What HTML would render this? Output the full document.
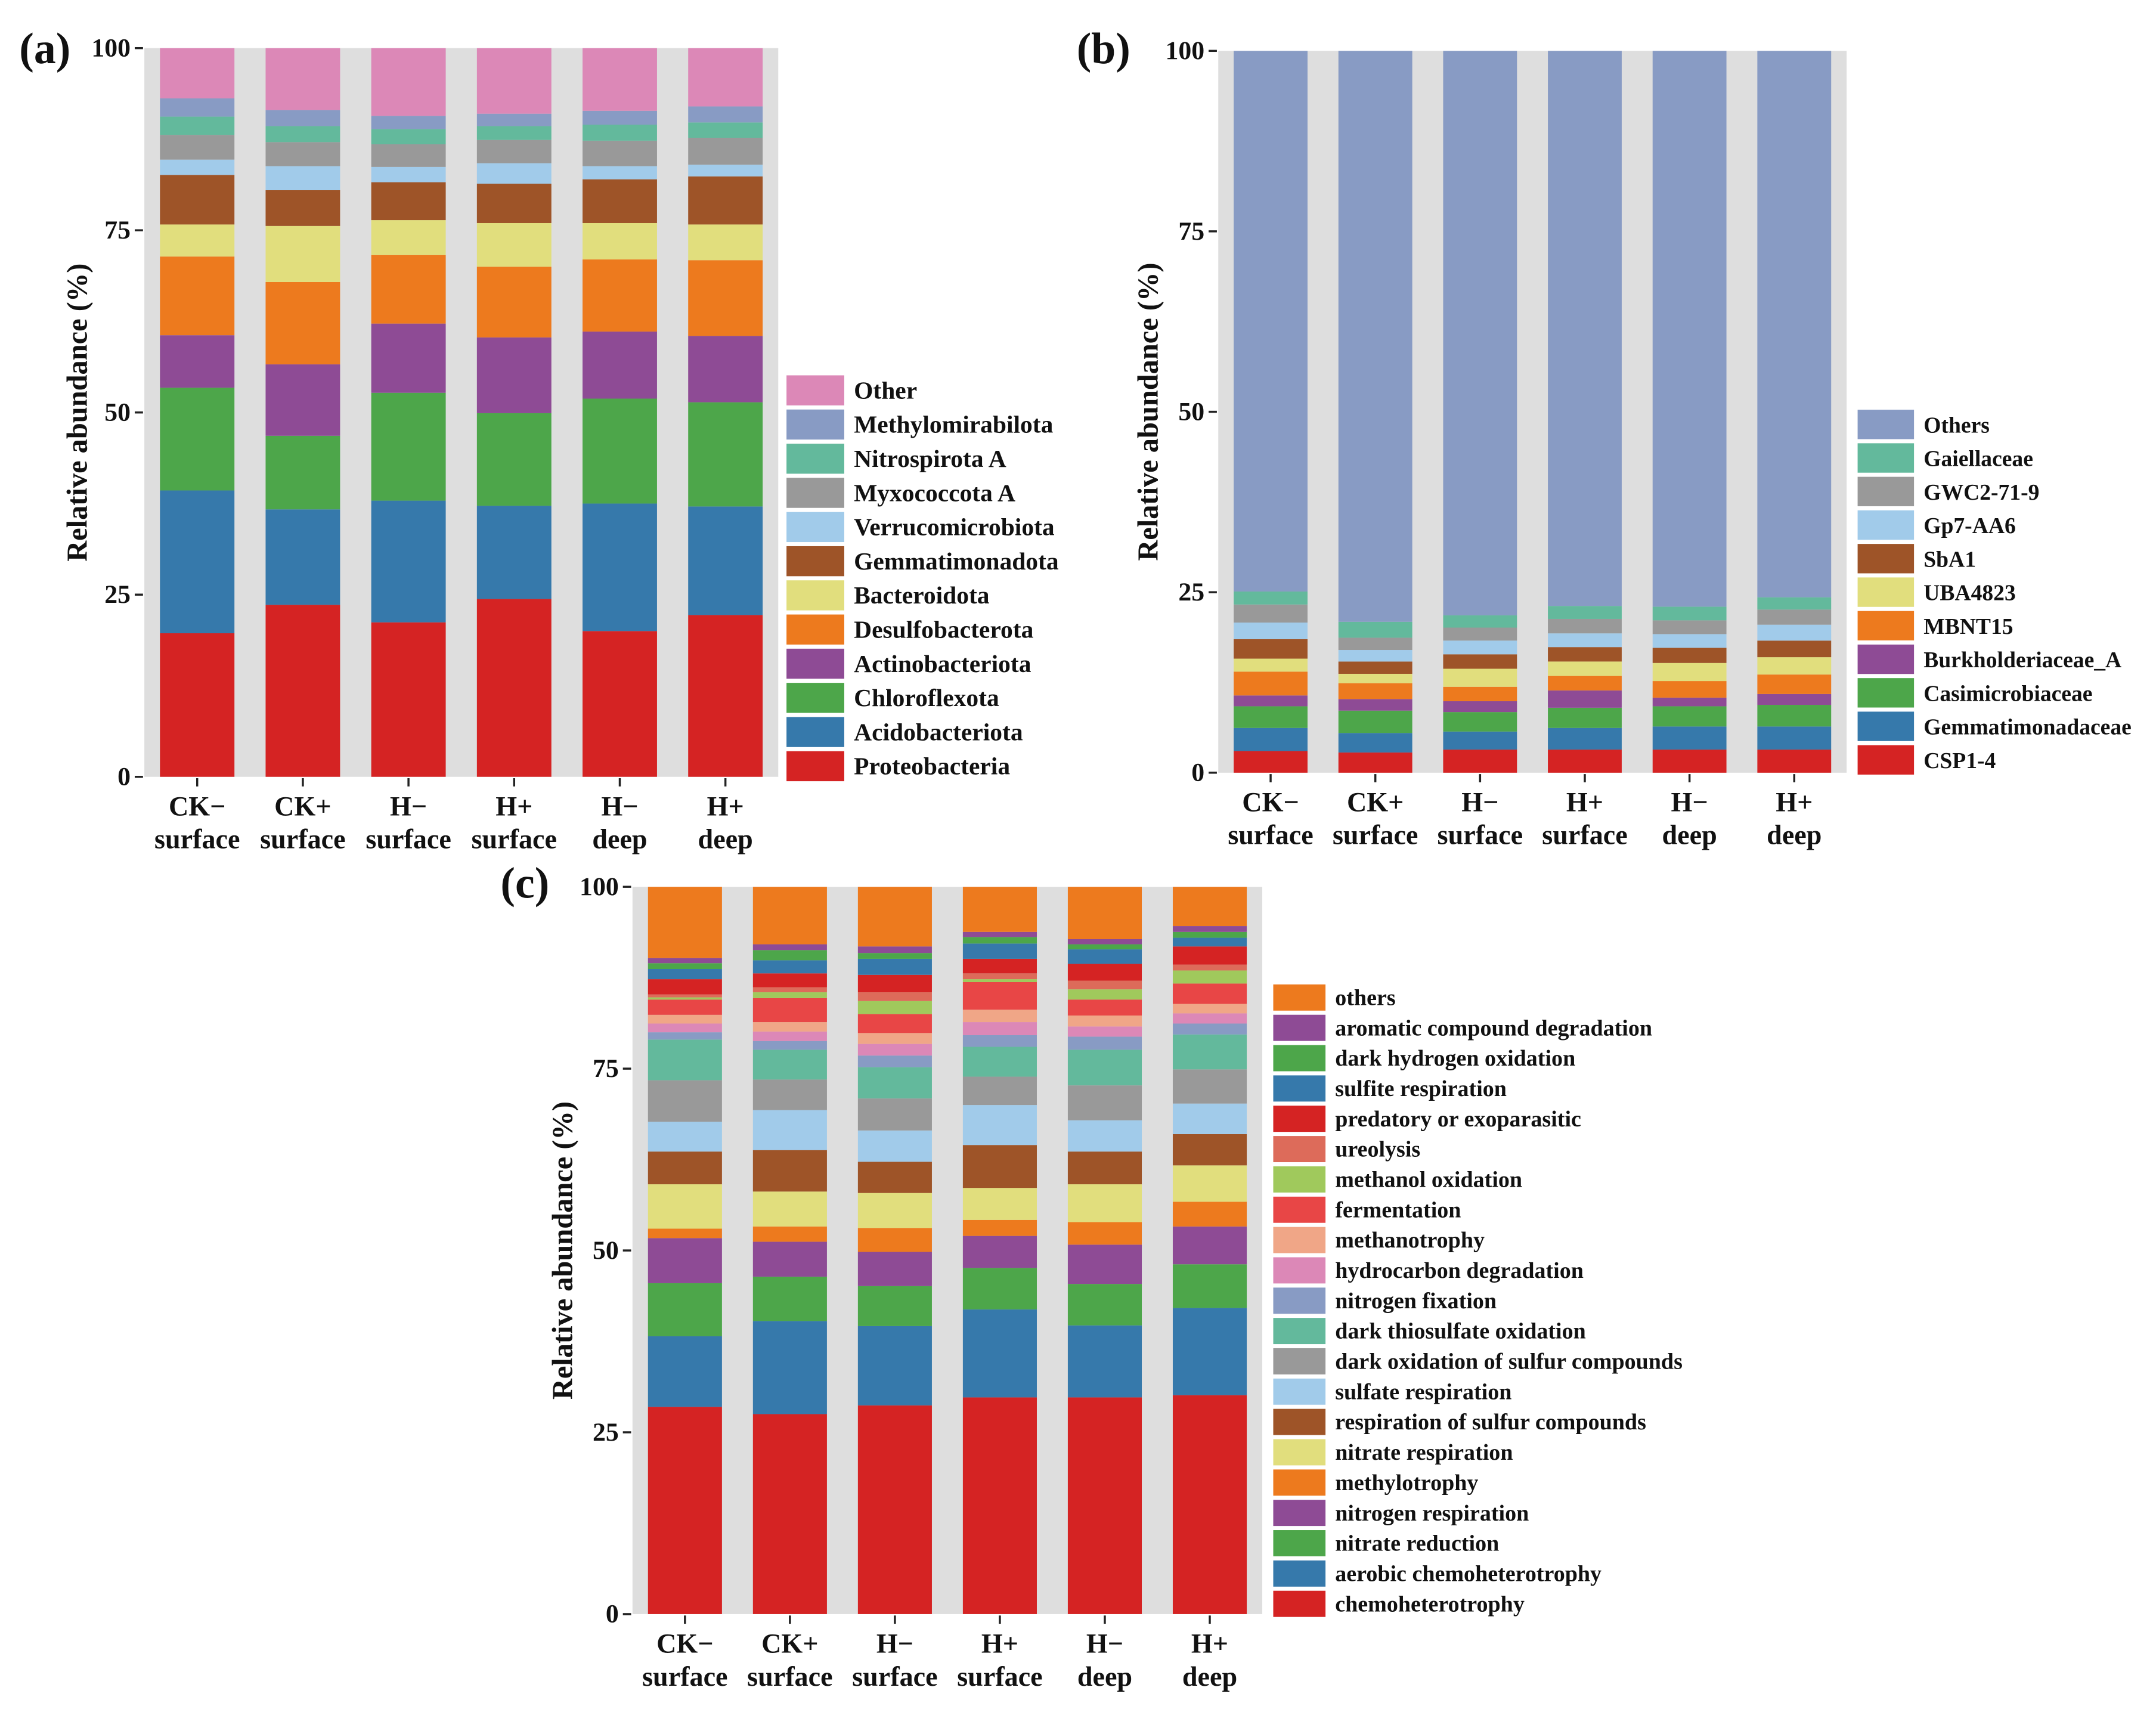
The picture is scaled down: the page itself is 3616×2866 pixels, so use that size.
<!DOCTYPE html>
<html><head><meta charset="utf-8">
<style>
html,body{margin:0;padding:0;background:#fff;}
svg{display:block;}
text{font-family:"Liberation Serif","Times New Roman",serif;font-weight:bold;fill:#111;}
</style></head>
<body>
<svg id="fig" xmlns="http://www.w3.org/2000/svg" width="3616" height="2866" viewBox="0 0 1568 1243" preserveAspectRatio="none"></svg>
<script>
// ---------- shared data ----------
const samples = ["CK−|surface","CK+|surface","H−|surface","H+|surface","H−|deep","H+|deep"];
const yTicks = [0,25,50,75,100];

// ---------- panel (a): phylum, segment values per sample (bottom→top) ----------
const aSeries = ["Proteobacteria","Acidobacteriota","Chloroflexota","Actinobacteriota","Desulfobacterota","Bacteroidota","Gemmatimonadota","Verrucomicrobiota","Myxococcota A","Nitrospirota A","Methylomirabilota","Other"];
const aColors = ["#d52323","#3679ab","#4da64a","#8e4b95","#ed7a1e","#e1de7d","#9e5428","#a1cbea","#999999","#63b99c","#889bc4","#dc88b7"];
const aS1 = [19.7,19.6,14.1,7.2,10.8,4.4,6.8,2.1,3.4,2.5,2.5,6.9];
const aS2 = [23.6,13.1,10.1,9.8,11.3,7.7,4.9,3.3,3.3,2.2,2.2,8.5];
const aS3 = [21.2,16.7,14.8,9.5,9.4,4.8,5.2,2.1,3.1,2.1,1.8,9.3];
const aS4 = [24.4,12.8,12.7,10.4,9.7,6.0,5.4,2.8,3.2,1.9,1.7,9.0];
const aS5 = [20.0,17.5,14.4,9.2,9.9,5.0,6.0,1.8,3.5,2.2,1.9,8.6];
const aS6 = [22.2,14.9,14.3,9.1,10.4,4.9,6.6,1.6,3.7,2.1,2.2,8.0];

// ---------- panel (b): family ----------
const bSeries = ["CSP1-4","Gemmatimonadaceae","Casimicrobiaceae","Burkholderiaceae_A","MBNT15","UBA4823","SbA1","Gp7-AA6","GWC2-71-9","Gaiellaceae","Others"];
const bColors = ["#d52323","#3679ab","#4da64a","#8e4b95","#ed7a1e","#e1de7d","#9e5428","#a1cbea","#999999","#63b99c","#889bc4"];
const bS1 = [3.0,3.2,3.0,1.5,3.3,1.8,2.7,2.3,2.5,1.8,74.9];
const bS2 = [2.8,2.7,3.1,1.6,2.2,1.3,1.7,1.6,1.7,2.2,79.1];
const bS3 = [3.2,2.5,2.7,1.5,2.0,2.5,2.0,1.9,1.8,1.7,78.2];
const bS4 = [3.2,3.0,2.8,2.4,2.0,2.0,2.0,1.9,2.0,1.8,76.9];
const bS5 = [3.2,3.2,2.8,1.2,2.3,2.5,2.1,1.9,1.9,1.9,77.0];
const bS6 = [3.2,3.2,3.0,1.5,2.7,2.4,2.3,2.2,2.1,1.7,75.7];

// ---------- panel (c): function, cumulative top boundary (%) per sample ----------
const cSeries = ["chemoheterotrophy","aerobic chemoheterotrophy","nitrate reduction","nitrogen respiration","methylotrophy","nitrate respiration","respiration of sulfur compounds","sulfate respiration","dark oxidation of sulfur compounds","dark thiosulfate oxidation","nitrogen fixation","hydrocarbon degradation","methanotrophy","fermentation","methanol oxidation","ureolysis","predatory or exoparasitic","sulfite respiration","dark hydrogen oxidation","aromatic compound degradation","others"];
const cColors = ["#d52323","#3679ab","#4da64a","#8e4b95","#ed7a1e","#e1de7d","#9e5428","#a1cbea","#999999","#63b99c","#889bc4","#dc88b7","#f0a687","#e84646","#a0c95c","#dd6b5a","#d52323","#3679ab","#4da64a","#8e4b95","#ed7a1e"];
const cCum1 = [28.5,38.2,45.5,51.7,53.0,59.1,63.6,67.7,73.4,79.0,80.0,81.2,82.4,84.5,84.8,85.2,87.3,88.7,89.5,90.2,100];
const cCum2 = [27.5,40.3,46.4,51.2,53.3,58.1,63.8,69.3,73.5,77.6,78.8,80.1,81.4,84.7,85.5,86.2,88.1,89.9,91.3,92.1,100];
const cCum3 = [28.7,39.6,45.1,49.8,53.1,57.9,62.2,66.5,70.9,75.2,76.8,78.4,79.9,82.5,84.3,85.5,87.9,90.1,90.9,91.8,100];
const cCum4 = [29.8,41.9,47.6,52.0,54.2,58.6,64.5,70.0,73.9,78.0,79.6,81.4,83.1,86.9,87.3,88.1,90.1,92.2,93.1,93.8,100];
const cCum5 = [29.8,39.7,45.4,50.8,53.9,59.1,63.6,67.9,72.7,77.6,79.4,80.8,82.3,84.5,85.9,87.1,89.4,91.4,92.1,92.8,100];
const cCum6 = [30.1,42.1,48.1,53.3,56.7,61.7,66.0,70.2,74.9,79.7,81.2,82.6,83.9,86.7,88.5,89.3,91.8,93.0,93.8,94.6,100];

const NS = "http://www.w3.org/2000/svg";
const svg = document.getElementById('fig');
function mk(tag, attrs, parent){
  const e = document.createElementNS(NS, tag);
  for (const k in attrs) e.setAttribute(k, attrs[k]);
  (parent||svg).appendChild(e);
  return e;
}
function toCum(vals){ const out=[]; let s=0; for(const v of vals){ s+=v; out.push(s);} return out; }

function panel(cfg){
  const g = mk('g', {});
  
  
  const yScale = v => cfg.y0 + (cfg.y100 - cfg.y0) * v / 100;
  const bg = mk('rect', {x:cfg.bgX0, y:cfg.y100, width:cfg.bgX1-cfg.bgX0, height:cfg.y0-cfg.y100, fill:'#dedede'}, g);
  
  
  const lt = mk('text', {x:cfg.letterX, y:cfg.letterY, 'font-size':32}, g);
  lt.textContent = cfg.letter;
  
  
  yTicks.forEach(t=>{
    const y = yScale(t);
    const tk = mk('line', {x1:cfg.bgX0-7, x2:cfg.bgX0-1, y1:y, y2:y, stroke:'#222', 'stroke-width':1.5}, g);
    
    
    const tl = mk('text', {x:cfg.bgX0-10, y:y+6, 'font-size':19, 'text-anchor':'end'}, g);
    tl.textContent = t;
    
    
  });
  const cy = (cfg.y0+cfg.y100)/2;
  const yt = mk('text', {x:cfg.titleX, y:cy, 'font-size':21, 'text-anchor':'middle', transform:`rotate(-90 ${cfg.titleX} ${cy})`}, g);
  yt.textContent = 'Relative abundance (%)';
  
  
  const step = (cfg.bgX1-cfg.bgX0)/6;
  const bw = step*0.705;
  cfg.cums.forEach((cum, i)=>{
    const cx = cfg.bgX0 + step*(i+0.5);
    let prev = 0;
    cum.forEach((top, j)=>{
      const t = Math.min(top, 100);
      const r = mk('rect', {x:cx-bw/2, y:yScale(t), width:bw, height:Math.max(0, yScale(prev)-yScale(t)), fill:cfg.colors[j]}, g);
      
      
      prev = t;
    });
    const xt = mk('line', {x1:cx, x2:cx, y1:cfg.y0+1, y2:cfg.y0+7, stroke:'#222', 'stroke-width':1.5}, g);
    
    
    const parts = samples[i].split('|');
    const l1 = mk('text', {x:cx, y:cfg.y0+28, 'font-size':20, 'text-anchor':'middle'}, g);
    l1.textContent = parts[0];
    
    
    const l2 = mk('text', {x:cx, y:cfg.y0+52, 'font-size':20, 'text-anchor':'middle'}, g);
    l2.textContent = parts[1];
    
    
  });
  const n = cfg.series.length;
  for (let k=0;k<n;k++){
    const idx = n-1-k;
    const y = cfg.legY + k*cfg.legStep;
    const sw = mk('rect', {x:cfg.legX, y:y, width:cfg.swW, height:cfg.legStep-3, fill:cfg.colors[idx]}, g);
    
    
    const tx = mk('text', {x:cfg.legX+cfg.swW+7, y:y+cfg.legStep*0.68, 'font-size':cfg.legFont}, g);
    tx.textContent = cfg.series[idx];
    
    
  }
}

panel({name:'panel-a', letter:'(a)', letterX:14, letterY:46, bgX0:105, bgX1:566, y0:565, y100:35, titleX:63,
  cums:[aS1,aS2,aS3,aS4,aS5,aS6].map(toCum), colors:aColors, series:aSeries,
  legX:572, legY:273, legStep:24.85, swW:42, legFont:18});
panel({name:'panel-b', letter:'(b)', letterX:783, letterY:46, bgX0:886, bgX1:1343, y0:562, y100:37, titleX:842,
  cums:[bS1,bS2,bS3,bS4,bS5,bS6].map(toCum), colors:bColors, series:bSeries,
  legX:1351, legY:298, legStep:24.4, swW:41, legFont:16.3});
panel({name:'panel-c', letter:'(c)', letterX:364, letterY:653, bgX0:460, bgX1:918, y0:1174, y100:645, titleX:416,
  cums:[cCum1,cCum2,cCum3,cCum4,cCum5,cCum6], colors:cColors, series:cSeries,
  legX:926, legY:716, legStep:22.05, swW:38, legFont:16.5});
</script>
</body></html>
